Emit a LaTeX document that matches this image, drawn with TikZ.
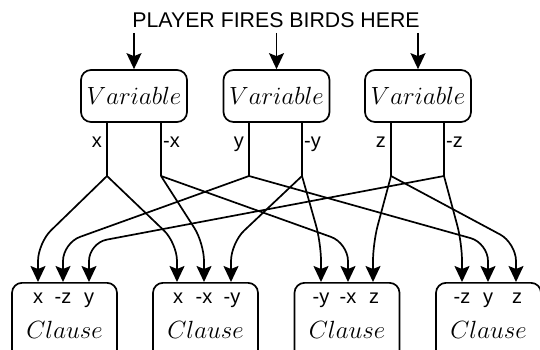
\documentclass[tikz,border=0pt]{standalone}
\usepackage[no-math]{fontspec}
\setmainfont{Liberation Sans}
\usetikzlibrary{arrows.meta}
\begin{document}
\begin{tikzpicture}[x=1pt,y=-1pt,
  varbox/.style={draw, line width=1.7pt, rounded corners=10pt, minimum width=106pt, minimum height=52pt, inner sep=0pt, font=\fontsize{26}{30}\selectfont},
  clbox/.style={draw, line width=1.7pt, rounded corners=10pt, minimum width=105pt, minimum height=80pt, inner sep=0pt},
  tip/.style={-{Stealth[length=16pt,width=15pt,inset=3pt]}},
  wire/.style={line width=1.7pt, rounded corners=18pt, tip},
  port/.style={line width=1.7pt},
  lab/.style={inner sep=0pt, font=\fontsize{20}{24}\selectfont},
  cltext/.style={inner sep=0pt, anchor=base, font=\fontsize{26}{30}\selectfont},
]
\useasboundingbox (0,0) rectangle (540,350);
\clip (0,0) rectangle (540,350);

% title
\node[inner sep=0pt, anchor=base, font=\fontsize{21.3}{25}\selectfont] (title) at (276,28) {PLAYER FIRES BIRDS HERE};

% variable boxes
\node[varbox] (v1) at (134,96) {$Variable$};
\node[varbox] (v2) at (276.5,96) {$Variable$};
\node[varbox] (v3) at (418,96) {$Variable$};

% fire arrows
\coordinate (f1) at (134,33);
\coordinate (f2) at (276.5,33);
\coordinate (f3) at (418,33);
\draw[line width=1.7pt, tip] (f1) -- (v1.north);
\draw[line width=1.7pt, tip] (f2) -- (v2.north);
\draw[line width=1.7pt, tip] (f3) -- (v3.north);

% junctions
\coordinate (jx) at (107,176);
\coordinate (jnx) at (161,176);
\coordinate (jy) at (249,176);
\coordinate (jny) at (302,176);
\coordinate (jz) at (391,176);
\coordinate (jnz) at (444,176);
\coordinate (bend) at (0,243);

\draw[port] (jx |- v1.south) -- (jx);
\draw[port] (jnx |- v1.south) -- (jnx);
\draw[port] (jy |- v2.south) -- (jy);
\draw[port] (jny |- v2.south) -- (jny);
\draw[port] (jz |- v3.south) -- (jz);
\draw[port] (jnz |- v3.south) -- (jnz);

% port labels
\node[lab, anchor=base east] (lx) at (102,147) {x};
\node[lab, anchor=base west] (lnx) at (163,147) {-x};
\node[lab, anchor=base east] (ly) at (244,147) {y};
\node[lab, anchor=base west] (lny) at (304,147) {-y};
\node[lab, anchor=base east] (lz) at (386,147) {z};
\node[lab, anchor=base west] (lnz) at (446,147) {-z};

% clause boxes
\node[clbox, anchor=north] (c1) at (64.5,282) {};
\node[clbox, anchor=north] (c2) at (205.5,282) {};
\node[clbox, anchor=north] (c3) at (347,282) {};
\node[clbox, anchor=north] (c4) at (488.5,282) {};

\node[cltext] (t1) at (64.5,338) {$Clause$};
\node[cltext] (t2) at (205.5,338) {$Clause$};
\node[cltext] (t3) at (347,338) {$Clause$};
\node[cltext] (t4) at (488.5,338) {$Clause$};

% arrow targets
\coordinate (a11) at (38,282);
\coordinate (a12) at (63,282);
\coordinate (a13) at (89,282);
\coordinate (a21) at (177,282);
\coordinate (a22) at (204,282);
\coordinate (a23) at (231,282);
\coordinate (a31) at (321,282);
\coordinate (a32) at (348,282);
\coordinate (a33) at (373,282);
\coordinate (a41) at (462,282);
\coordinate (a42) at (488,282);
\coordinate (a43) at (516,282);

% clause labels
\node[lab, anchor=base] (k11) at (38,303) {x};
\node[lab, anchor=base] (k12) at (63,303) {-z};
\node[lab, anchor=base] (k13) at (89,303) {y};
\node[lab, anchor=base] (k21) at (178,303) {x};
\node[lab, anchor=base] (k22) at (204,303) {-x};
\node[lab, anchor=base] (k23) at (232,303) {-y};
\node[lab, anchor=base] (k31) at (321,303) {-y};
\node[lab, anchor=base] (k32) at (348,303) {-x};
\node[lab, anchor=base] (k33) at (374,303) {z};
\node[lab, anchor=base] (k41) at (462,303) {-z};
\node[lab, anchor=base] (k42) at (488,303) {y};
\node[lab, anchor=base] (k43) at (517,303) {z};

% wires
\draw[wire] (jx) -- (a11 |- bend) -- (a11);
\draw[wire] (jx) -- (a21 |- bend) -- (a21);
\draw[wire] (jnx) -- (a22 |- bend) -- (a22);
\draw[wire] (jnx) -- (a32 |- bend) -- (a32);
\draw[wire] (jy) -- (a12 |- bend) -- (a12);
\draw[wire] (jy) -- (a42 |- bend) -- (a42);
\draw[wire] (jny) -- (a23 |- bend) -- (a23);
\draw[wire] (jny) -- (a31 |- bend) -- (a31);
\draw[wire] (jz) -- (a33 |- bend) -- (a33);
\draw[wire] (jz) -- (a43 |- bend) -- (a43);
\draw[wire] (jnz) -- (a13 |- bend) -- (a13);
\draw[wire] (jnz) -- (a41 |- bend) -- (a41);
\end{tikzpicture}
\end{document}
